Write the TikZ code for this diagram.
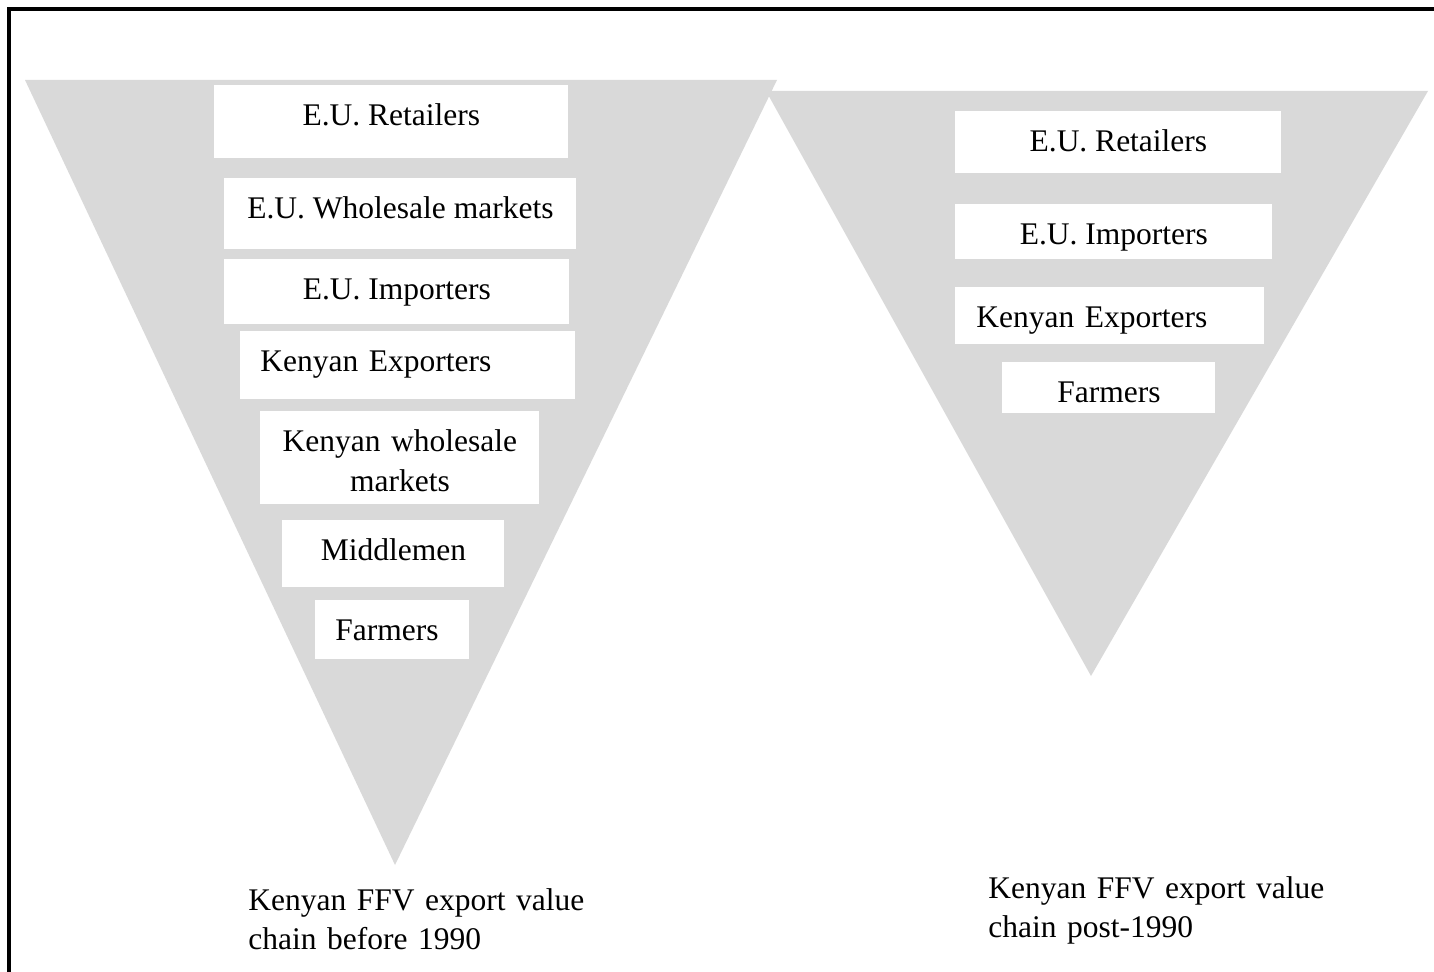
\documentclass[tikz,border=0pt]{standalone}
\usepackage{fontspec}
\setmainfont{Liberation Serif}
\definecolor{funnelgray}{HTML}{D9D9D9}
\tikzset{
  tier/.style={fill=white, inner sep=0pt, anchor=north west, text height=20pt},
  note/.style={inner sep=0pt, anchor=north west, align=left, text width=175pt, text height=20pt}
}

\begin{document}
\begin{tikzpicture}[x=0.5pt, y=-0.5pt, font=\fontsize{15.75pt}{19.5pt}\selectfont]
    \useasboundingbox (0,0) rectangle (1434,972);
    % frame, cut by the page at right and bottom
    \draw[line width=1.6pt] (9,972) -- (9,9) -- (1434,9);
    % the two funnels
    \fill[funnelgray] (25,80) -- (777,80) -- (395,865) -- cycle;
    \fill[funnelgray] (766,91) -- (1428,91) -- (1091,676) -- cycle;

    % chain before 1990
    \node[tier, minimum width=177pt, text depth=16.5pt] (lretail) at (214,85) {E.U. Retailers};
    \node[tier, minimum width=176pt, text depth=15.5pt] (lwhole) at (224,178) {E.U. Wholesale markets};
    \node[tier, minimum width=172.5pt, text depth=12.5pt] (limport) at (224,259) {E.U. Importers};
    \node[tier, inner xsep=10pt, text width=147.5pt, align=left, text depth=14pt] (lexport) at (240,331) {Kenyan Exporters};
    \node[tier, text width=139.5pt, align=center, text depth=26.5pt,
          font=\fontsize{15.75pt}{20pt}\selectfont] (lkwhole) at (260,411) {Kenyan wholesale\\markets};
    \node[tier, minimum width=111pt, text depth=13.5pt] (lmiddle) at (282,520) {Middlemen};
    \node[tier, inner xsep=10pt, text width=57pt, align=left, text depth=9.5pt] (lfarm) at (315,600) {Farmers};
    \node[note] (lnote) at (248,870) {Kenyan FFV export value\\chain before 1990};

    % chain post-1990
    \node[tier, minimum width=163pt, text depth=11pt] (rretail) at (955,111) {E.U. Retailers};
    \node[tier, minimum width=158.5pt, text depth=7.5pt] (rimport) at (955,204) {E.U. Importers};
    \node[tier, inner xsep=10.5pt, text width=133.5pt, align=left, text depth=8.5pt] (rexport) at (955,287) {Kenyan Exporters};
    \node[tier, minimum width=106.5pt, text depth=5.5pt] (rfarm) at (1002,362) {Farmers};
    \node[note] (rnote) at (988,858) {Kenyan FFV export value\\chain post-1990};
  \end{tikzpicture}
\end{document}
